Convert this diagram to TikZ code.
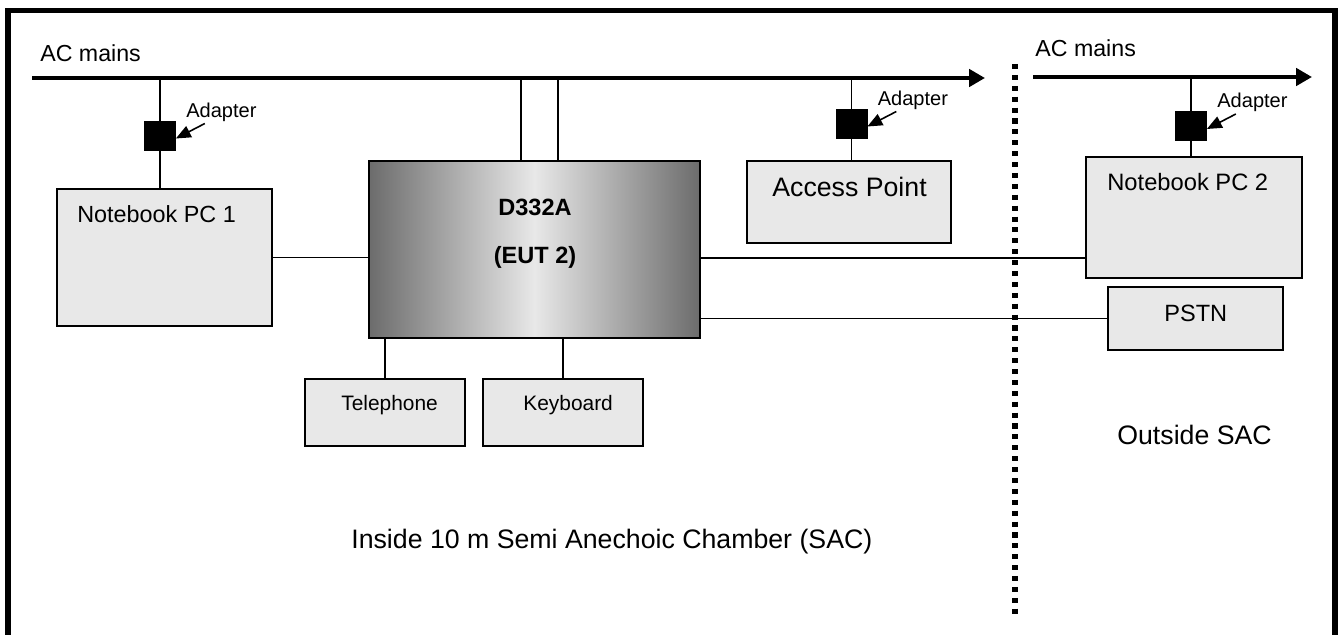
\documentclass[tikz,border=0pt]{standalone}
\usepackage{fontspec}
\setmainfont{Liberation Sans}
\usetikzlibrary{positioning,arrows.meta}
\definecolor{boxgray}{RGB}{232,232,232}
\definecolor{edgegray}{RGB}{108,108,108}
\newcommand{\fs}[1]{\fontsize{#1}{#1}\selectfont}

\begin{document}
\begin{tikzpicture}[x=0.02cm, y=-0.02cm, >={Triangle[length=8.5pt,width=7pt]},
  every box/.style={draw, line width=1.1pt, fill=boxgray, inner sep=0pt},
  eut box/.style={draw, line width=1.1pt, left color=edgegray, right color=edgegray, middle color=boxgray, inner sep=0pt},
  adapter/.style={draw, fill=black, minimum width=0.62cm, minimum height=0.58cm, inner sep=0pt},
  wire/.style={line width=1.1pt},
  mains/.style={line width=2.4pt, -{Triangle[length=9pt,width=9.7pt]}},
  txt/.style={inner sep=0pt, anchor=base west}]

\useasboundingbox (0,0) rectangle (1341,635);
\clip (0,0) rectangle (1341,635);

% frame and chamber wall
\draw[line width=3.4pt] (8,660) -- (8,10.5) -- (1334.5,10.5) -- (1334.5,660);
\draw[line width=2.9pt, dash pattern=on 2.9pt off 3.3pt] (1015,64) -- (1015,617);

% mains
\coordinate (mains-w) at (32,78);
\coordinate (mains-e) at (985,78);
\coordinate (mains-rw) at (1033,77);
\coordinate (mains-re) at (1312,77);
\draw[mains] (mains-w) -- (mains-e);
\draw[mains] (mains-rw) -- (mains-re);
\node[txt, font=\fs{13.2pt}] (mains-txt-1) at (40,62) {AC mains};
\node[txt, font=\fs{13.2pt}] (mains-txt-2) at (1035,57) {AC mains};

% units
\node[every box, minimum width=4.3cm, minimum height=2.74cm] (pc-1) at (164.5,257.5) {};
\node[eut box, minimum width=6.62cm, minimum height=3.54cm] (eut) at (534.5,249.5) {};
\node[every box, minimum width=3.2cm, minimum height=1.34cm] (phone) at (385,412.5) {};
\node[every box, minimum width=3.2cm, minimum height=1.34cm] (keys) at (563,412.5) {};
\node[every box, minimum width=4.08cm, minimum height=1.64cm] (ap) at (849,202) {};
\node[every box, minimum width=4.32cm, minimum height=2.42cm] (pc-2) at (1194,217.5) {};
\node[every box, minimum width=3.5cm, minimum height=1.26cm] (pstn) at (1195.5,318.5) {};

\node[txt, font=\fs{13.3pt}] at (77,222.5) {Notebook PC 1};
\node[txt, font=\fs{13.5pt}] at (1107,190) {Notebook PC 2};
\node[txt, font=\fs{15.2pt}] at (772,196.5) {Access Point};
\node[txt, font=\fs{13.4pt}] at (1164,321) {PSTN};
\node[txt, font=\fs{11.9pt}] at (341,410) {Telephone};
\node[txt, font=\fs{11.9pt}] at (523,410) {Keyboard};
\node[font=\fs{13.4pt}\bfseries, inner sep=0pt, anchor=base] at (535,215) {D332A};
\node[font=\fs{13.4pt}\bfseries, inner sep=0pt, anchor=base] at (535,263) {(EUT 2)};

% adapters
\foreach \n/\x/\y in {1/160/135.5, 2/851.5/123.5, 3/1191/126} {
  \node[adapter] (adapter-\n) at (\x,\y) {};
  \node[txt, font=\fs{11.4pt}] (adapter-txt-\n) at ([shift={(26,-18)}]adapter-\n.center) {Adapter};
  \draw[wire, line width=0.9pt, <-] ([shift={(0,3)}]adapter-\n.east) -- ++(29,-15);
}

\draw[wire] (adapter-1) -- (adapter-1 |- mains-w);
\draw[wire] (adapter-1) -- (adapter-1 |- pc-1.north);
\draw[wire] (adapter-2) -- (adapter-2 |- mains-w);
\draw[wire] (adapter-2) -- (adapter-2 |- ap.north);
\draw[wire] (adapter-3) -- (adapter-3 |- mains-rw);
\draw[wire] (adapter-3) -- (adapter-3 |- pc-2.north);

% eut links
\coordinate (eut-p1) at ([shift={(-13.5,0)}]eut.north);
\coordinate (eut-p2) at ([shift={(23.5,0)}]eut.north);
\draw[wire] (eut-p1) -- (eut-p1 |- mains-w);
\draw[wire] (eut-p2) -- (eut-p2 |- mains-w);
\draw[wire] (phone.north) -- (phone.north |- eut.south);
\draw[wire] (keys.north) -- (keys.north |- eut.south);
\draw[wire] (pc-1.east) -- (pc-1.east -| eut.west);
\coordinate (eut-o1) at ([shift={(0,8.5)}]eut.east);
\draw[wire] (eut-o1) -- (eut-o1 -| pc-2.west);
\draw[wire] (pstn.west -| eut.east) -- (pstn.west);

\node[txt, font=\fs{15.2pt}] at (1117,444) {Outside SAC};
\node[txt, font=\fs{15.2pt}] at (351,548) {Inside 10 m Semi Anechoic Chamber (SAC)};
\end{tikzpicture}
\end{document}
